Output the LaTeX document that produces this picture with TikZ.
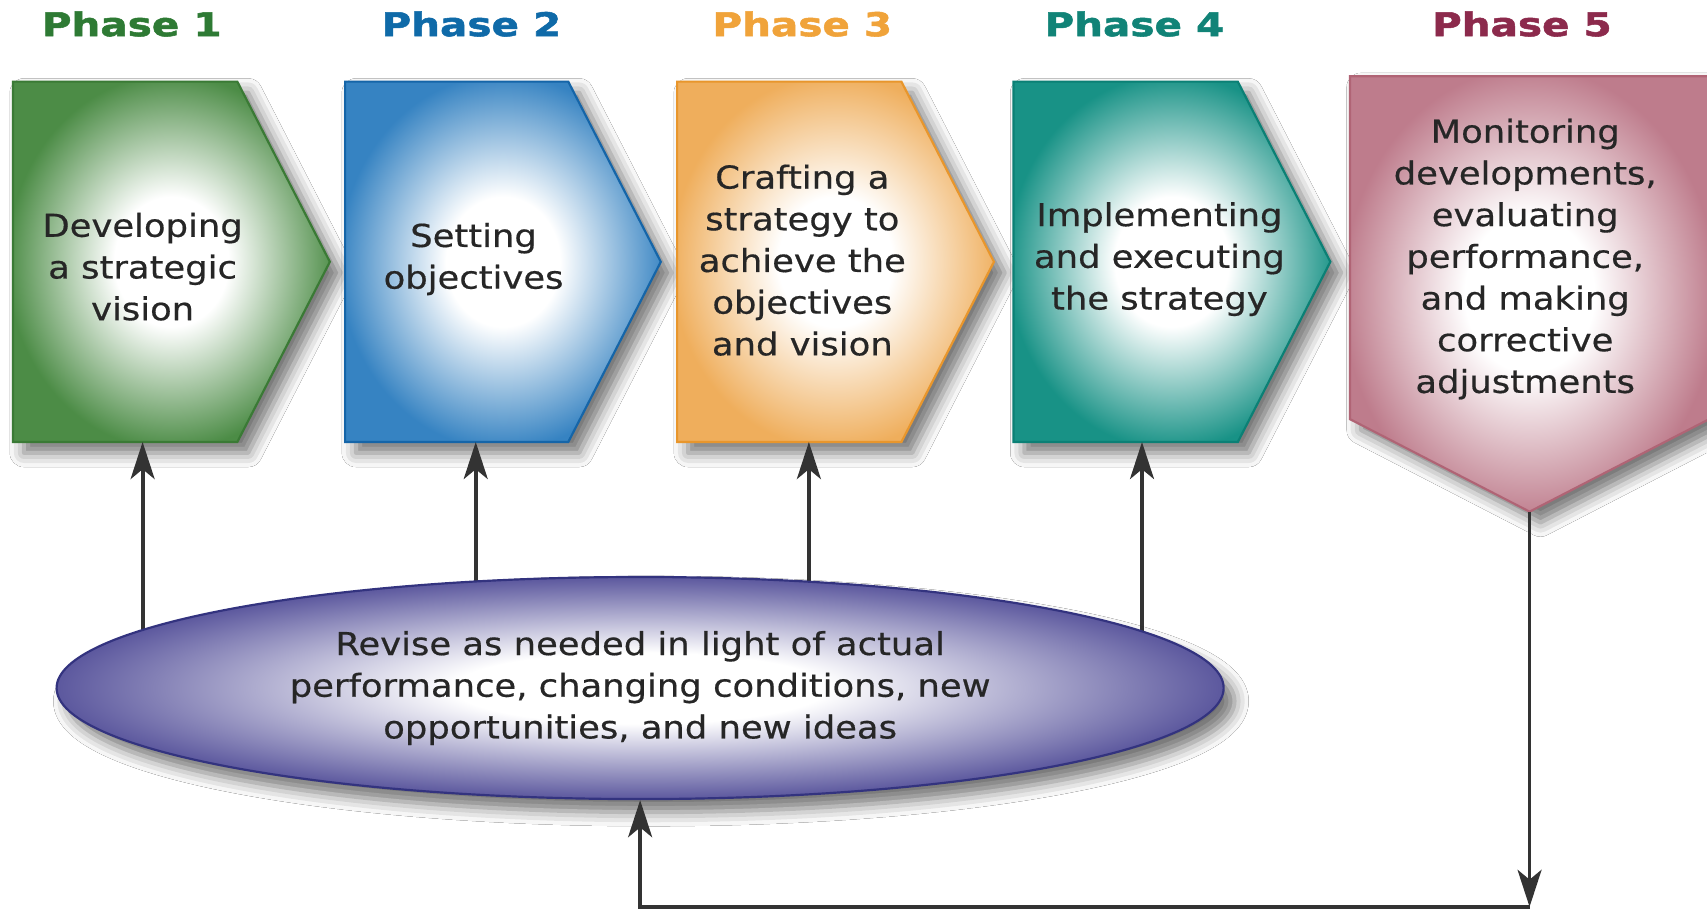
\documentclass[tikz,border=0pt]{standalone}
\usepackage{fontspec}
\newfontfamily\bodyfont[FakeStretch=1.12,FakeBold=0.5]{DejaVu Sans}
\newfontfamily\titlefont[FakeStretch=1.24,FakeBold=1.6]{DejaVu Sans}
\usetikzlibrary{arrows.meta,shadows.blur,calc,shapes.geometric}
\definecolor{gfill}{HTML}{4C8C46}\definecolor{gline}{HTML}{3A7A35}\definecolor{gtitle}{HTML}{2E7A34}
\definecolor{bfill}{HTML}{3683C2}\definecolor{bline}{HTML}{1565A8}\definecolor{btitle}{HTML}{0F6AA8}
\definecolor{ofill}{HTML}{EFAE5C}\definecolor{oline}{HTML}{E8962C}\definecolor{otitle}{HTML}{F0A33A}
\definecolor{tfill}{HTML}{189286}\definecolor{tline}{HTML}{0B8075}\definecolor{ttitle}{HTML}{118377}
\definecolor{mfill}{HTML}{BE7C8C}\definecolor{mline}{HTML}{B06475}\definecolor{mtitle}{HTML}{8C2A4C}
\definecolor{efill}{HTML}{5C589E}\definecolor{eline}{HTML}{33337F}
\definecolor{textc}{HTML}{262626}\definecolor{linec}{HTML}{333333}
\pgfdeclareradialshading{gsh}{\pgfpoint{0bp}{0bp}}{color(0bp)=(white); color(9bp)=(white); color(26bp)=(gfill); color(50bp)=(gfill)}
\pgfdeclareradialshading{bsh}{\pgfpoint{0bp}{0bp}}{color(0bp)=(white); color(9bp)=(white); color(26bp)=(bfill); color(50bp)=(bfill)}
\pgfdeclareradialshading{osh}{\pgfpoint{0bp}{0bp}}{color(0bp)=(white); color(9bp)=(white); color(26bp)=(ofill); color(50bp)=(ofill)}
\pgfdeclareradialshading{tsh}{\pgfpoint{0bp}{0bp}}{color(0bp)=(white); color(9bp)=(white); color(26bp)=(tfill); color(50bp)=(tfill)}
\pgfdeclareradialshading{msh}{\pgfpoint{0bp}{0bp}}{color(0bp)=(white); color(9bp)=(white); color(26bp)=(mfill); color(50bp)=(mfill)}
\pgfdeclareradialshading{esh}{\pgfpoint{0bp}{0bp}}{color(0bp)=(white); color(8bp)=(white); color(25bp)=(efill); color(50bp)=(efill)}
\tikzset{
  box/.style={rectangle, inner sep=0pt, outer sep=0pt},
  phase/.style={shade, shading=#1, line width=2pt, line join=miter,
    blur shadow={shadow xshift=10pt, shadow yshift=-10pt, shadow blur radius=13pt, shadow opacity=55}},
  txt/.style={align=center, inner sep=0pt, text=textc, font=\bodyfont\fontsize{29}{38.3}\selectfont},
  ttl/.style={inner sep=0pt, font=\titlefont\bfseries\fontsize{30}{36}\selectfont},
  arr/.style={-{Stealth[length=34pt,width=22pt,inset=9pt]}, line width=3.5pt, draw=linec},
}
\begin{document}
\begin{tikzpicture}[x=1pt,y=-1pt]
\clip (0,0) rectangle (1568,836);
\fill[white] (0,0) rectangle (1568,836);
% titles
\node[ttl, text=gtitle] (h1) at (121,22) {Phase 1};
\node[ttl, text=btitle] (h2) at (433,22) {Phase 2};
\node[ttl, text=otitle] (h3) at (737,22) {Phase 3};
\node[ttl, text=ttitle] (h4) at (1042,22) {Phase 4};
\node[ttl, text=mtitle] (h5) at (1398,22) {Phase 5};
% box frames
\node[box, minimum width=291, minimum height=331] (b1) at (157.5,240.5) {};
\node[box, minimum width=290, minimum height=331] (b2) at (462,240.5) {};
\node[box, minimum width=291, minimum height=331] (b3) at (767.5,240.5) {};
\node[box, minimum width=291, minimum height=331] (b4) at (1076.5,240.5) {};
\node[box, minimum width=330, minimum height=400] (b5) at (1405,270) {};
% shapes
\path[phase=gsh, draw=gline] (b1.north west) -- ($(b1.north east)+(-85,0)$) -- (b1.east) -- ($(b1.south east)+(-85,0)$) -- (b1.south west) -- cycle;
\path[phase=bsh, draw=bline] (b2.north west) -- ($(b2.north east)+(-85,0)$) -- (b2.east) -- ($(b2.south east)+(-85,0)$) -- (b2.south west) -- cycle;
\path[phase=osh, draw=oline] (b3.north west) -- ($(b3.north east)+(-85,0)$) -- (b3.east) -- ($(b3.south east)+(-85,0)$) -- (b3.south west) -- cycle;
\path[phase=tsh, draw=tline] (b4.north west) -- ($(b4.north east)+(-85,0)$) -- (b4.east) -- ($(b4.south east)+(-85,0)$) -- (b4.south west) -- cycle;
\path[phase=msh, draw=mline] (b5.north west) -- (b5.north east) -- ($(b5.south east)+(0,-85)$) -- (b5.south) -- ($(b5.south west)+(0,-85)$) -- cycle;
% texts
\node[txt] (t1) at (131,245) {Developing\\a strategic\\vision};
\node[txt] (t2) at (435,238) {Setting\\objectives};
\node[txt] (t3) at (737,239) {Crafting a\\strategy to\\achieve the\\objectives\\and vision};
\node[txt] (t4) at (1065,238) {Implementing\\and executing\\the strategy};
\node[txt] (t5) at (1401,238) {Monitoring\\developments,\\evaluating\\performance,\\and making\\corrective\\adjustments};
% arrow anchors on boxes
\coordinate (a1) at ($(b1.south west)+(119,0)$);
\coordinate (a2) at ($(b2.south west)+(120,0)$);
\coordinate (a3) at ($(b3.south west)+(121,0)$);
\coordinate (a4) at ($(b4.south west)+(118,0)$);
\coordinate (ec) at (588,632);
\coordinate (corner) at (1405,833);
% up connectors (lower ends hidden under ellipse)
\draw[arr] (ec -| a1) -- (a1);
\draw[arr] (ec -| a2) -- (a2);
\draw[arr] (ec -| a3) -- (a3);
\draw[arr] (ec -| a4) -- (a4);
% ellipse
\node[ellipse, minimum width=1072, minimum height=204, inner sep=0pt, draw=eline, line width=2pt,
  shade, shading=esh, blur shadow={shadow xshift=10pt, shadow yshift=-12pt, shadow blur radius=13pt, shadow opacity=55},
  txt] (ell) at (ec) {Revise as needed in light of actual\\performance, changing conditions, new\\opportunities, and new ideas};
% feedback loop
\draw[arr] (b5.south) -- (corner);
\draw[arr] (corner) -| (ell.south);
\end{tikzpicture}
\end{document}
